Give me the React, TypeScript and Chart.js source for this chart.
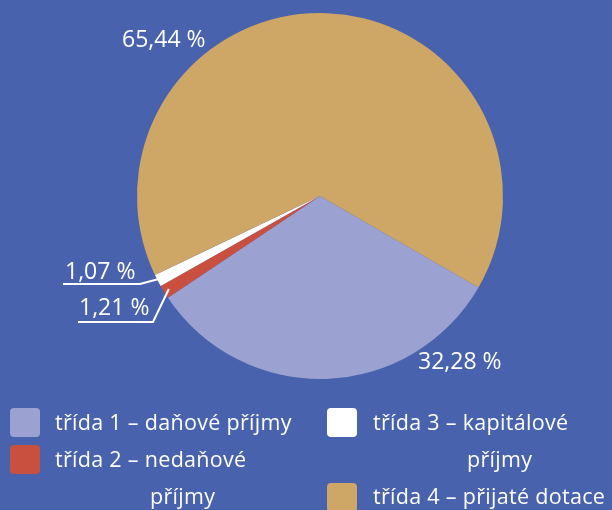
import React, { useEffect, useRef } from "react";
import { Chart, registerables } from "chart.js";

Chart.register(...registerables);

const categories = [
  "třída 1 – daňové příjmy",
  "třída 2 – nedaňové příjmy",
  "třída 3 – kapitálové příjmy",
  "třída 4 – přijaté dotace",
];
const shares = [32.28, 1.21, 1.07, 65.44];
const sliceColors = ["#9ba1d1", "#c94f3f", "#ffffff", "#cea666"];
const percentLabels = shares.map((v) => v.toFixed(2).replace(".", ",") + " %");

const BG = "#4862ad";
const FONT = "'Open Sans', sans-serif";

// label placement (text left x, text middle y) and optional leader underline
const labelLayout = [
  { x: 418, y: 362, leader: null as null | { x0: number; x1: number; y: number } },
  { x: 79, y: 308, leader: { x0: 78, x1: 153, y: 322 } },
  { x: 65, y: 272, leader: { x0: 63, x1: 140, y: 284 } },
  { x: 122, y: 40, leader: null },
];

const labelPlugin = {
  id: "pieLabels",
  afterDraw(chart: any) {
    const ctx = chart.ctx;
    const meta = chart.getDatasetMeta(0);
    ctx.save();
    ctx.fillStyle = "#ffffff";
    ctx.strokeStyle = "#ffffff";
    ctx.lineWidth = 2;
    ctx.font = `23px ${FONT}`;
    ctx.textAlign = "left";
    ctx.textBaseline = "middle";
    meta.data.forEach((arc: any, i: number) => {
      const lay = labelLayout[i];
      ctx.fillText(percentLabels[i], lay.x, lay.y);
      if (lay.leader) {
        const { x, y, startAngle, endAngle, outerRadius } = arc.getProps(
          ["x", "y", "startAngle", "endAngle", "outerRadius"],
          true
        );
        const mid = (startAngle + endAngle) / 2;
        const r = outerRadius * 0.97;
        const px = x + Math.cos(mid) * r;
        const py = y + Math.sin(mid) * r;
        ctx.beginPath();
        ctx.moveTo(lay.leader.x0, lay.leader.y);
        ctx.lineTo(lay.leader.x1, lay.leader.y);
        ctx.lineTo(px, py);
        ctx.stroke();
      }
    });
    ctx.restore();
  },
};

const swatch = (color: string, left: number, top: number): React.CSSProperties => ({
  position: "absolute",
  left,
  top,
  width: 30,
  height: 29,
  borderRadius: 4,
  background: color,
});

const textStyle = (left: number, top: number): React.CSSProperties => ({
  position: "absolute",
  left,
  top,
  color: "#ffffff",
  fontFamily: FONT,
  fontSize: 21.5,
  letterSpacing: "0.3px",
  lineHeight: "37px",
  whiteSpace: "nowrap",
});

export default function App() {
  const ref = useRef<HTMLCanvasElement | null>(null);

  useEffect(() => {
    document.body.style.margin = "0";
    const chart = new Chart(ref.current as HTMLCanvasElement, {
      type: "pie",
      data: {
        labels: categories,
        datasets: [
          {
            data: shares,
            backgroundColor: sliceColors,
            borderWidth: 0,
            hoverOffset: 0,
            offset: 0,
          },
        ],
      },
      options: {
        animation: false,
        responsive: false,
        rotation: 120,
        layout: { padding: { left: 137, right: 109, top: 13, bottom: 131 } },
        plugins: { legend: { display: false }, tooltip: { enabled: false } },
      },
      plugins: [labelPlugin],
    });
    return () => chart.destroy();
  }, []);

  const split = (s: string) => {
    const parts = s.split(" – ");
    const words = parts[1].split(" ");
    return { head: parts[0] + " – ", first: words[0], rest: words.slice(1).join(" ") };
  };

  const c2 = split(categories[1]);
  const c3 = split(categories[2]);

  return (
    <div
      style={{
        position: "fixed",
        left: 0,
        top: 0,
        width: 612,
        height: 510,
        background: BG,
        overflow: "hidden",
      }}
    >
      <canvas ref={ref} width={612} height={510} style={{ display: "block", position: "absolute", left: 0, top: 0 }} />
      <div style={swatch(sliceColors[0], 10, 408)} />
      <div style={textStyle(55, 403)}>{categories[0]}</div>
      <div style={swatch(sliceColors[1], 10, 445)} />
      <div style={textStyle(55, 440)}>
        {c2.head + c2.first}
        <br />
        <span style={{ paddingLeft: 95 }}>{c2.rest}</span>
      </div>
      <div style={swatch(sliceColors[2], 327, 408)} />
      <div style={textStyle(373, 403)}>
        {c3.head + c3.first}
        <br />
        <span style={{ paddingLeft: 94 }}>{c3.rest}</span>
      </div>
      <div style={swatch(sliceColors[3], 327, 483)} />
      <div style={textStyle(373, 477)}>{categories[3]}</div>
    </div>
  );
}
